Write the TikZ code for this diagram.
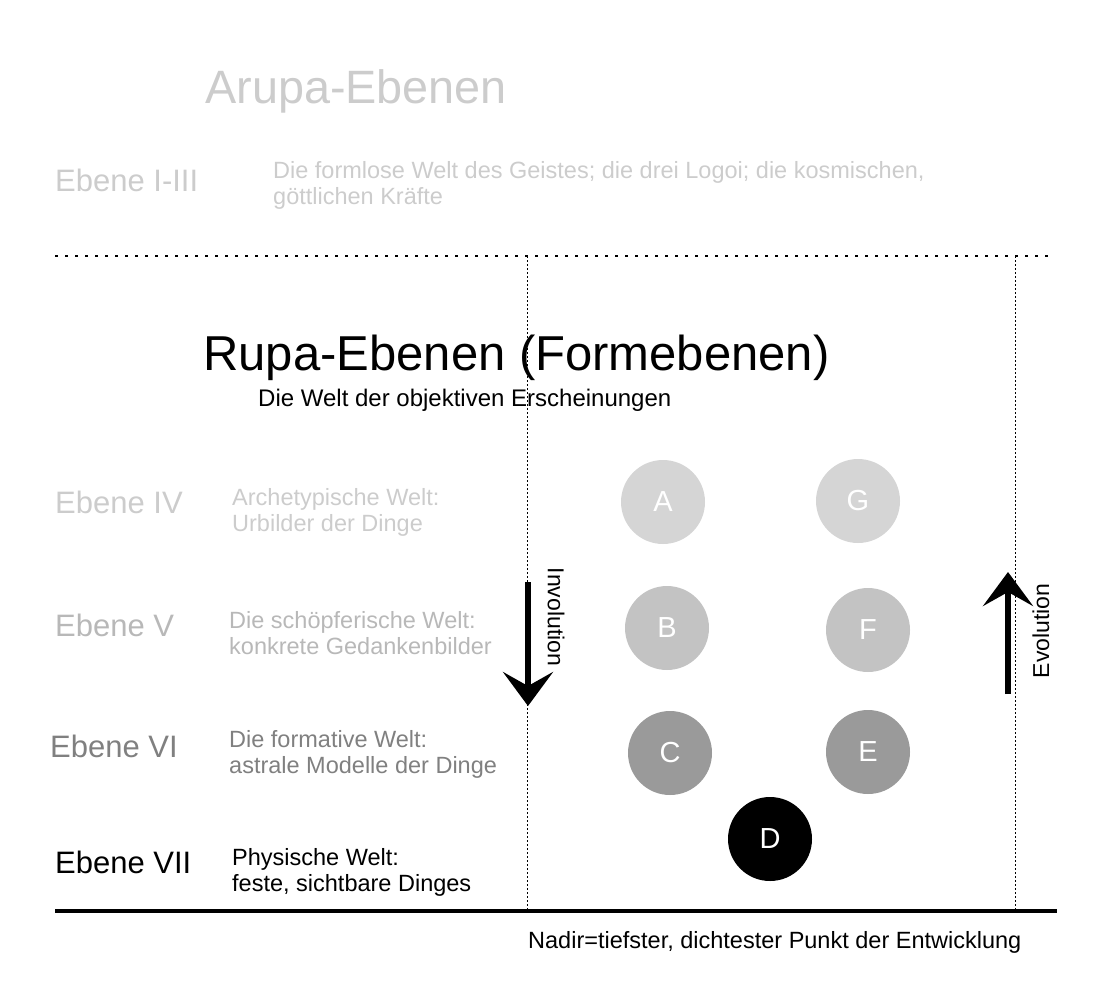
\documentclass[tikz,border=0pt]{standalone}
\usepackage{fontspec}
\setmainfont{Liberation Sans}
\usetikzlibrary{arrows.meta}
\definecolor{lvA}{HTML}{CCCCCC}
\definecolor{lvB}{HTML}{B8B8B8}
\definecolor{lvC}{HTML}{808080}
\definecolor{cA}{HTML}{D5D5D5}
\definecolor{cB}{HTML}{C3C3C3}
\definecolor{cC}{HTML}{9A9A9A}
\tikzset{
  title/.style={anchor=base west, inner sep=0pt, font=\fontsize{49}{52}\selectfont},
  level/.style={anchor=base west, inner sep=0pt, font=\fontsize{31}{34}\selectfont},
  desc/.style={anchor=base west, inner sep=0pt, align=left, font=\fontsize{23.5}{26}\selectfont},
  stage/.style={circle, minimum size=84pt, inner sep=0pt, text=white, font=\fontsize{29}{30}\selectfont},
  sepdots/.style={line width=2.5pt, dash pattern=on 2.5pt off 7.5pt},
  vdots/.style={line width=1pt, dash pattern=on 1.5pt off 2.5pt},
  bigarrow/.style={line width=6pt, -{Stealth[length=34pt,width=50pt,inset=14pt]}},
  arrowlabel/.style={inner sep=0pt, font=\fontsize{23}{25}\selectfont}
}
\begin{document}
\begin{tikzpicture}[x=1pt,y=-1pt]
\useasboundingbox (0,0) rectangle (1094,982);
% titles
\node[title, text=lvA, font=\fontsize{46.8}{50}\selectfont] (arupa) at (205,103) {Arupa-Ebenen};
\node[level, text=lvA] (l13) at (55,191) {Ebene I-III};
\node[desc, text=lvA] (d13) at (273,204) {Die formlose Welt des Geistes; die drei Logoi; die kosmischen,\\göttlichen Kräfte};
% separator
\coordinate (s1) at (55,256);
\coordinate (s2) at (1052,256);
\draw[sepdots] (s1) -- (s2);
\node[title] (rupa) at (203,370) {Rupa-Ebenen (Formebenen)};
\node[desc, font=\fontsize{24}{26}\selectfont] (rupasub) at (258,406) {Die Welt der objektiven Erscheinungen};
% levels
\node[level, text=lvA] (l4) at (55,513) {Ebene IV};
\node[desc, text=lvA] (d4) at (232,531) {Archetypische Welt:\\Urbilder der Dinge};
\node[level, text=lvB] (l5) at (55,636) {Ebene V};
\node[desc, text=lvB] (d5) at (229,654) {Die schöpferische Welt:\\konkrete Gedankenbilder};
\node[level, text=lvC] (l6) at (50,757) {Ebene VI};
\node[desc, text=lvC] (d6) at (229,773) {Die formative Welt:\\astrale Modelle der Dinge};
\node[level] (l7) at (55,873) {Ebene VII};
\node[desc] (d7) at (232,891) {Physische Welt:\\feste, sichtbare Dinges};
% vertical dotted lines
\coordinate (v1t) at (527,256);
\coordinate (v1b) at (527,910);
\coordinate (v2t) at (1015,256);
\coordinate (v2b) at (1015,910);
\draw[vdots] (v1t) -- (v1b);
\draw[vdots] (v2t) -- (v2b);
% bottom line
\coordinate (b1) at (55,911);
\coordinate (b2) at (1057,911);
\draw[line width=4pt] (b1) -- (b2);
\node[desc] (nadir) at (528,948) {Nadir=tiefster, dichtester Punkt der Entwicklung};
% circles
\node[stage, fill=cA] (A) at (663,502) {A};
\node[stage, fill=cA] (G) at (858,501) {G};
\node[stage, fill=cB] (B) at (667,628) {B};
\node[stage, fill=cB] (F) at (868,630) {F};
\node[stage, fill=cC] (C) at (670,753) {C};
\node[stage, fill=cC] (E) at (868,752) {E};
\node[stage, fill=black] (D) at (770,839) {D};
% arrows
\coordinate (i1) at (528,582);
\coordinate (i2) at (528,706);
\draw[bigarrow] (i1) -- (i2);
\node[arrowlabel, rotate=-90] (inv) at (556,617) {Involution};
\coordinate (e1) at (1008,694);
\coordinate (e2) at (1008,572);
\draw[bigarrow] (e1) -- (e2);
\node[arrowlabel, rotate=90] (evo) at (1041,631) {Evolution};
\end{tikzpicture}
\end{document}
